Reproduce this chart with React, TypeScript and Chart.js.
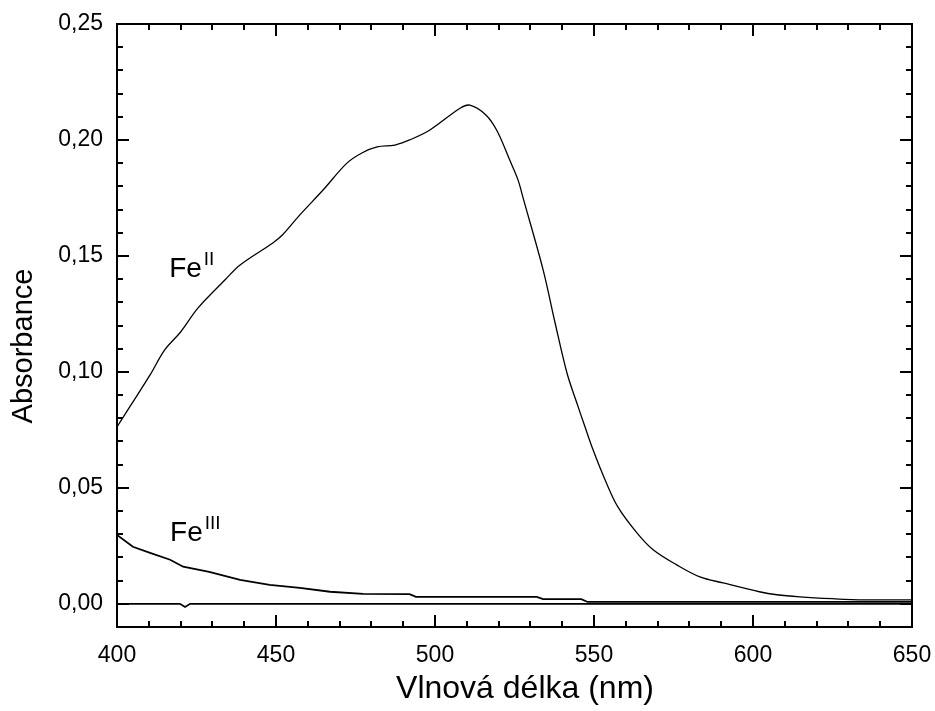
import React, { useEffect, useRef } from 'react';
import { Chart, registerables } from 'chart.js';

Chart.register(...registerables);

// Fe(II) spectrum
const feIIWavelengths = [400, 404, 410.4, 415, 420, 425.5, 434, 438.7, 449, 452, 457.5, 464.8, 472.3, 477, 481.8, 487.4, 492, 498.4, 508, 511, 516, 519.5, 523.6, 526.1, 527.7, 534, 537.7, 541.5, 544.5, 547, 549.7, 553.5, 557.5, 563.5, 568.6, 576, 583.3, 590.6, 602, 607.5, 614.7, 625, 635, 650];
const feIIValues = [0.0763, 0.0849, 0.0987, 0.1095, 0.1172, 0.1276, 0.1397, 0.1461, 0.1556, 0.159, 0.1677, 0.1784, 0.19, 0.1944, 0.197, 0.1978, 0.2, 0.2043, 0.2138, 0.215, 0.2108, 0.204, 0.191, 0.1828, 0.175, 0.144, 0.1215, 0.0995, 0.087, 0.077, 0.0664, 0.0534, 0.0418, 0.0306, 0.0233, 0.0168, 0.0116, 0.009, 0.0052, 0.0039, 0.003, 0.0022, 0.0017, 0.0017];

// Fe(III) spectrum
const feIIIWavelengths = [400, 405, 410.4, 416.7, 420.8, 429, 438.7, 448, 457.5, 467, 477.4, 492, 494, 532, 534, 546, 548, 650];
const feIIIValues = [0.0297, 0.0246, 0.022, 0.019, 0.016, 0.0138, 0.0103, 0.0082, 0.0069, 0.0052, 0.0043, 0.0042, 0.003, 0.003, 0.002, 0.002, 0.0008, 0.0008];

// Baseline
const baseWavelengths = [400, 419.8, 421.4, 423, 650];
const baseValues = [0, 0, -0.0014, 0, 0];

const xTickValues = [400, 450, 500, 550, 600, 650];
const yTickValues = [0, 0.05, 0.1, 0.15, 0.2, 0.25];
const xMinorStep = 10;
const yMinorStep = 0.01;

const xTitle = 'Vlnová délka (nm)';
const yTitle = 'Absorbance';

const seriesLabels = [
  { base: 'Fe', sup: 'II', x: 416.4, y: 0.141 },
  { base: 'Fe', sup: 'III', x: 416.7, y: 0.0272 },
];

const FONT = '"Liberation Sans", Arial, Helvetica, sans-serif';

const toPts = (xs: number[], ys: number[]) => xs.map((x, i) => ({ x, y: ys[i] }));

const framePlugin = {
  id: 'framePlugin',
  afterDraw(chart: any) {
    const { ctx, chartArea } = chart;
    const xs = chart.scales.x;
    const ys = chart.scales.y;
    const { left, right, top, bottom } = chartArea;
    ctx.save();
    ctx.strokeStyle = '#000';
    ctx.lineWidth = 2;
    ctx.strokeRect(left, top, right - left, bottom - top);
    const major = 12;
    const minor = 6;
    ctx.beginPath();
    for (let v = xs.min; v <= xs.max + 1e-9; v += xMinorStep) {
      const isMajor = xTickValues.some((t) => Math.abs(t - v) < 1e-6);
      const len = isMajor ? major : minor;
      const px = Math.round(xs.getPixelForValue(v));
      ctx.moveTo(px, bottom);
      ctx.lineTo(px, bottom - len);
      ctx.moveTo(px, top);
      ctx.lineTo(px, top + len);
    }
    for (let k = 0; ; k++) {
      const v = -0.01 + k * yMinorStep;
      if (v > ys.max + 1e-9) break;
      const isMajor = yTickValues.some((t) => Math.abs(t - v) < 1e-6);
      const len = isMajor ? major : minor;
      const py = Math.round(ys.getPixelForValue(v));
      ctx.moveTo(left, py);
      ctx.lineTo(left + len, py);
      ctx.moveTo(right, py);
      ctx.lineTo(right - len, py);
    }
    ctx.stroke();

    ctx.fillStyle = '#000';
    for (const l of seriesLabels) {
      const px = xs.getPixelForValue(l.x);
      const py = ys.getPixelForValue(l.y);
      ctx.font = `28px ${FONT}`;
      ctx.textAlign = 'left';
      ctx.textBaseline = 'alphabetic';
      ctx.fillText(l.base, px, py);
      const w = ctx.measureText(l.base).width;
      ctx.font = `19px ${FONT}`;
      ctx.fillText(l.sup, px + w + 2, py - 12);
    }
    ctx.font = `32px ${FONT}`;
    ctx.textAlign = 'center';
    ctx.textBaseline = 'alphabetic';
    ctx.fillText(xTitle, 525, 698);
    ctx.save();
    ctx.translate(24, 346);
    ctx.rotate(-Math.PI / 2);
    ctx.textBaseline = 'middle';
    ctx.font = `29px ${FONT}`;
    ctx.fillText(yTitle, 0, 0);
    ctx.restore();
    ctx.restore();
  },
};

export default function App() {
  const ref = useRef<HTMLCanvasElement | null>(null);
  useEffect(() => {
    if (!ref.current) return;
    const chart = new Chart(ref.current, {
      type: 'line',
      data: {
        datasets: [
          {
            label: 'FeII',
            data: toPts(feIIWavelengths, feIIValues),
            borderColor: '#000',
            borderWidth: 1.3,
            pointRadius: 0,
            tension: 0.35,
          },
          {
            label: 'FeIII',
            data: toPts(feIIIWavelengths, feIIIValues),
            borderColor: '#000',
            borderWidth: 1.8,
            pointRadius: 0,
          },
          {
            label: 'baseline',
            data: toPts(baseWavelengths, baseValues),
            borderColor: '#000',
            borderWidth: 1.8,
            pointRadius: 0,
          },
        ],
      },
      options: {
        animation: false,
        responsive: false,
        parsing: false as any,
        layout: { padding: { left: 0, right: 23, top: 24, bottom: 0 } },
        plugins: { legend: { display: false }, tooltip: { enabled: false } },
        scales: {
          x: {
            type: 'linear',
            min: 400,
            max: 650,
            grid: { display: false, drawTicks: false },
            border: { display: false },
            afterBuildTicks: (s: any) => {
              s.ticks = xTickValues.map((v) => ({ value: v }));
            },
            afterFit: (s: any) => {
              s.height = 84;
              s.paddingLeft = 0;
              s.paddingRight = 0;
            },
            ticks: {
              color: '#000',
              font: { family: FONT, size: 23 },
              padding: 15,
              maxRotation: 0,
              callback: (v: any) => String(v),
            },
          },
          y: {
            type: 'linear',
            min: -0.01,
            max: 0.25,
            grid: { display: false, drawTicks: false },
            border: { display: false },
            afterBuildTicks: (s: any) => {
              s.ticks = yTickValues.map((v) => ({ value: v }));
            },
            afterFit: (s: any) => {
              s.width = 117;
              s.paddingTop = 0;
              s.paddingBottom = 0;
            },
            ticks: {
              color: '#000',
              font: { family: FONT, size: 23 },
              padding: 14,
              callback: (v: any) => Number(v).toFixed(2).replace('.', ','),
            },
          },
        },
      },
      plugins: [framePlugin],
    });
    return () => chart.destroy();
  }, []);
  return (
    <div style={{ position: 'absolute', left: 0, top: 0, width: 935, height: 711, background: '#fff' }}>
      <canvas ref={ref} width={935} height={711} style={{ display: 'block' }} />
    </div>
  );
}
